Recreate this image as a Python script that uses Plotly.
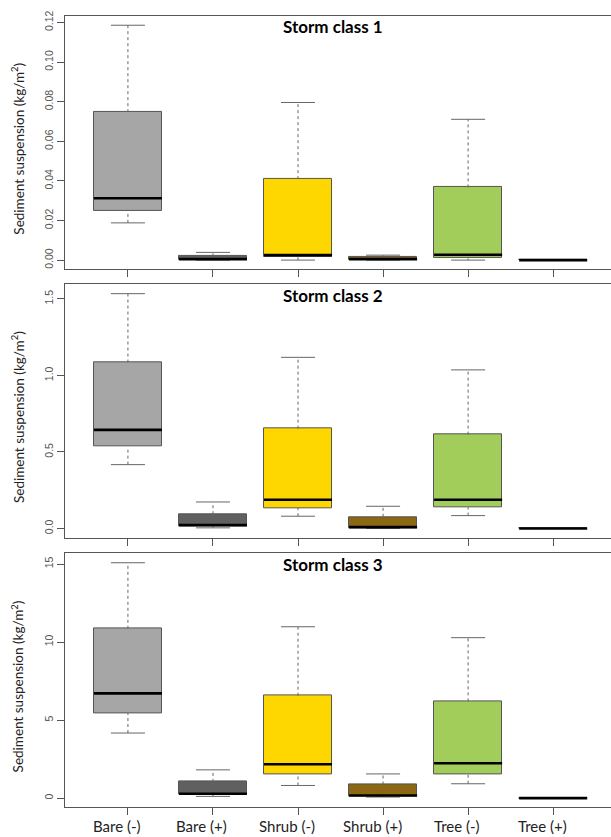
import plotly.graph_objects as go

categories = ["Bare (-)", "Bare (+)", "Shrub (-)", "Shrub (+)", "Tree (-)", "Tree (+)"]
positions = [1, 2, 3, 4, 5, 6]
box_colors = ["#A6A6A6", "#606060", "#FFD700", "#8B6914", "#A2CD5A", "#FFFFFF"]

storm1_min = [0.0188, 0.0, 0.0, 0.0, 0.0, 0.0]
storm1_q1 = [0.0249, 0.0, 0.0014, 0.0, 0.0009, 0.0]
storm1_med = [0.0312, 0.0005, 0.0025, 0.0005, 0.0027, 0.0]
storm1_q3 = [0.0747, 0.0019, 0.0409, 0.0015, 0.0367, 0.0]
storm1_max = [0.1186, 0.0039, 0.0796, 0.0025, 0.0711, 0.0]

storm2_min = [0.417, 0.004, 0.080, 0.0, 0.084, 0.0]
storm2_q1 = [0.534, 0.015, 0.134, 0.003, 0.139, 0.0]
storm2_med = [0.644, 0.022, 0.188, 0.009, 0.188, 0.0]
storm2_q3 = [1.084, 0.093, 0.652, 0.076, 0.613, 0.0]
storm2_max = [1.534, 0.173, 1.118, 0.145, 1.036, 0.0]

storm3_min = [4.17, 0.11, 0.81, 0.07, 0.92, 0.0]
storm3_q1 = [5.44, 0.24, 1.49, 0.11, 1.55, 0.0]
storm3_med = [6.71, 0.28, 2.17, 0.17, 2.23, 0.0]
storm3_q3 = [10.85, 1.04, 6.56, 0.87, 6.20, 0.0]
storm3_max = [15.08, 1.81, 10.98, 1.55, 10.28, 0.0]

panel_titles = ["Storm class 1", "Storm class 2", "Storm class 3"]
y_ranges = [[-0.0047, 0.1233], [-0.061, 1.595], [-0.60, 15.68]]
y_ticks = [[0, 0.02, 0.04, 0.06, 0.08, 0.10, 0.12], [0, 0.5, 1.0, 1.5], [0, 5, 10, 15]]
y_ticktext = [["0.00", "0.02", "0.04", "0.06", "0.08", "0.10", "0.12"],
              ["0.0", "0.5", "1.0", "1.5"], ["0", "5", "10", "15"]]

panels = [
    (storm1_min, storm1_q1, storm1_med, storm1_q3, storm1_max),
    (storm2_min, storm2_q1, storm2_med, storm2_q3, storm2_max),
    (storm3_min, storm3_q1, storm3_med, storm3_q3, storm3_max),
]

W, H = 611, 837
BOXW = 0.8
CAPW = 0.4
frames_px = [(11, 266), (281, 536), (551.7, 807.3)]
x_dom = [65 / W, 1.0]

fig = go.Figure()
layout = dict(
    width=W, height=H, margin=dict(l=0, r=0, t=0, b=0),
    paper_bgcolor="white", plot_bgcolor="white", showlegend=False,
    bargap=0, barmode="overlay",
)
annotations = []
frame_col = "#555555"

for k, (mn, q1, md, q3, mx) in enumerate(panels):
    xa = "x" if k == 0 else f"x{k+1}"
    ya = "y" if k == 0 else f"y{k+1}"
    # boxes
    fig.add_trace(go.Bar(
        x=positions, y=[b - a for a, b in zip(q1, q3)], base=q1, width=BOXW,
        marker=dict(color=box_colors, line=dict(color=frame_col, width=1)),
        xaxis=xa, yaxis=ya, hoverinfo="skip"))
    # whiskers (dashed)
    wx, wy = [], []
    for p, a, b, c, d in zip(positions, mn, q1, q3, mx):
        if d > c:
            wx += [p, p, None]; wy += [c, d, None]
        if b > a:
            wx += [p, p, None]; wy += [a, b, None]
    fig.add_trace(go.Scatter(x=wx, y=wy, mode="lines",
                             line=dict(color="#666666", width=1, dash="3px,3px"),
                             xaxis=xa, yaxis=ya, hoverinfo="skip"))
    # caps
    cx, cy = [], []
    for p, a, d, c in zip(positions, mn, mx, q3):
        if d > 0 or c > 0:
            cx += [p - CAPW / 2, p + CAPW / 2, None]; cy += [d, d, None]
            cx += [p - CAPW / 2, p + CAPW / 2, None]; cy += [a, a, None]
    fig.add_trace(go.Scatter(x=cx, y=cy, mode="lines",
                             line=dict(color="#666666", width=1),
                             xaxis=xa, yaxis=ya, hoverinfo="skip"))
    # medians
    mxs, mys = [], []
    for p, m in zip(positions, md):
        mxs += [p - BOXW / 2, p + BOXW / 2, None]; mys += [m, m, None]
    fig.add_trace(go.Scatter(x=mxs, y=mys, mode="lines",
                             line=dict(color="black", width=2.6),
                             xaxis=xa, yaxis=ya, hoverinfo="skip"))

    top, bot = frames_px[k]
    ydom = [1 - bot / H, 1 - top / H]
    xkey = "xaxis" if k == 0 else f"xaxis{k+1}"
    ykey = "yaxis" if k == 0 else f"yaxis{k+1}"
    layout[xkey] = dict(
        domain=x_dom, range=[0.26, 6.68], anchor=ya,
        tickvals=positions, showticklabels=False,
        ticks="outside", ticklen=7, tickcolor=frame_col,
        showline=True, mirror=True, linecolor=frame_col, linewidth=1,
        showgrid=False, zeroline=False,
    )
    layout[ykey] = dict(
        domain=ydom, range=y_ranges[k], anchor=xa,
        tickvals=y_ticks[k], ticktext=y_ticktext[k], tickangle=-90,
        ticks="outside", ticklen=7, tickcolor=frame_col,
        showline=True, mirror=False, linecolor=frame_col, linewidth=1,
        showgrid=False, zeroline=False,
        tickfont=dict(family="Liberation Sans", size=10.5, color="#555555"),
    )
    annotations.append(dict(
        text=f"<b>{panel_titles[k]}</b>", xref="paper", yref="paper",
        x=332.5 / W, y=1 - (top + 11) / H, xanchor="center", yanchor="middle",
        showarrow=False, font=dict(family="Lato", size=17, color="black")))
    annotations.append(dict(
        text="Sediment suspension (kg/m<sup>2</sup>)", xref="paper", yref="paper",
        x=18 / W, y=1 - ((top + bot) / 2 + 6) / H, xanchor="center", yanchor="middle",
        textangle=-90, showarrow=False,
        font=dict(family="Lato", size=13.5, color="#222222")))

# category labels under the bottom panel (slightly left of the ticks, as in the source)
for p, c in zip(positions, categories):
    annotations.append(dict(
        text=c, xref="x3", yref="paper", x=p, xshift=-11, y=1 - 826 / H,
        xanchor="center", yanchor="middle", showarrow=False,
        font=dict(family="Lato", size=15, color="#222222")))

layout["annotations"] = annotations
fig.update_layout(**layout)
fig.write_html("out.html")
